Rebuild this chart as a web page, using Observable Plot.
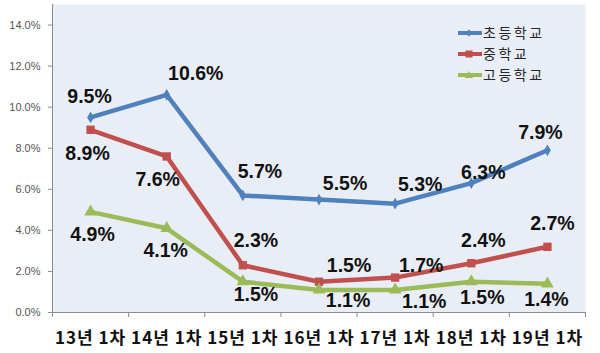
<!DOCTYPE html>
<html><head><meta charset="utf-8">
<script src="https://cdn.jsdelivr.net/npm/d3@7"></script>
<script src="https://cdn.jsdelivr.net/npm/@observablehq/plot@0.6"></script>
<style>
body{margin:0;background:#fff;}
#wrap{position:relative;width:600px;height:353px;}
#legend{position:absolute;left:458px;top:22px;font-family:"Noto Sans CJK KR",sans-serif;font-size:14px;letter-spacing:2.5px;color:#262626;line-height:21px;}
#legend div{display:flex;align-items:center;height:21px;}
#legend svg{margin-right:1px;}
#chart g[aria-label="x-axis tick label"] text{letter-spacing:1px;}
</style>
</head><body>
<div id="wrap"><div id="chart"></div><div id="legend"></div></div>
<script>
const categories = ["13년 1차","14년 1차","15년 1차","16년 1차","17년 1차","18년 1차","19년 1차"];
const seriesNames = ["초등학교","중학교","고등학교"];
const elementary = [9.5, 10.6, 5.7, 5.5, 5.3, 6.3, 7.9];
const middle = [8.9, 7.6, 2.3, 1.5, 1.7, 2.4, 3.2];
const high = [4.9, 4.1, 1.5, 1.1, 1.1, 1.5, 1.4];
const elementaryLabels = ["9.5%","10.6%","5.7%","5.5%","5.3%","6.3%","7.9%"];
const middleLabels = ["8.9%","7.6%","2.3%","1.5%","1.7%","2.4%","2.7%"];
const highLabels = ["4.9%","4.1%","1.5%","1.1%","1.1%","1.5%","1.4%"];
const yTicks = [0, 2, 4, 6, 8, 10, 12, 14];

// layout (styling) — label offsets in pixels, not data
const colors = ["#4f81bd", "#c0504d", "#9bbb59"];
const symbols = ["diamond", "square", "triangle"];
const symbolSizes = [40, 70, 70];
const labelOffsets = [
  [[-1,-21],[29,-21],[17,-24],[26,-16],[25,-19],[12,-10],[-7,-18]],
  [[-3,24],[-9,23],[13,-25],[30,-16],[26,-12],[12,-22],[5,-23]],
  [[2,23],[-1,22],[13,13],[29,11],[29,12],[11,16],[-1,16]]
];

const seriesValues = [elementary, middle, high];
const seriesLabels = [elementaryLabels, middleLabels, highLabels];
const data = [];
seriesNames.forEach((s, si) => seriesValues[si].forEach((v, i) =>
  data.push({series: s, si, i, x: i + 0.5, y: v, label: seriesLabels[si][i]})));

const labelMarks = data.map(d => Plot.text([d], {
  x: "x", y: "y", text: "label",
  dx: labelOffsets[d.si][d.i][0], dy: labelOffsets[d.si][d.i][1],
  fontSize: 19.5, fontWeight: "bold", fill: "#111",
  fontFamily: "'Liberation Sans', Arial, sans-serif"
}));

const chart = Plot.plot({
  width: 600, height: 353,
  marginLeft: 52, marginRight: 15, marginTop: 4, marginBottom: 41,
  style: {fontFamily: "'Liberation Sans', Arial, sans-serif", background: "transparent"},
  x: {type: "linear", domain: [0, categories.length]},
  y: {domain: [0, 15]},
  marks: [
    Plot.frame({fill: "#e9eef6", stroke: "none"}),
    Plot.ruleY([0], {stroke: "#8c8c8c", strokeWidth: 1}),
    Plot.ruleX([0], {stroke: "#8c8c8c", strokeWidth: 1}),
    Plot.axisY({ticks: yTicks, tickSize: 4, tickPadding: 8, tickFormat: d => d.toFixed(1) + "%",
      fontSize: 11, color: "#555", stroke: "#8c8c8c", label: null}),
    Plot.axisX({ticks: d3.range(0, categories.length + 1), tickSize: 5, tickFormat: () => "",
      stroke: "#8c8c8c", label: null}),
    Plot.axisX({ticks: categories.map((c, i) => i + 0.5), tickSize: 0, tickPadding: 19,
      tickFormat: d => categories[Math.floor(d)], fontSize: 17, fontWeight: "bold",
      fontFamily: "'Noto Sans CJK KR', sans-serif", color: "#111", label: null}),
    ...seriesNames.map((s, si) => Plot.line(data.filter(d => d.si === si),
      {x: "x", y: "y", stroke: colors[si], strokeWidth: 4.5})),
    ...seriesNames.map((s, si) => Plot.dot(data.filter(d => d.si === si),
      {x: "x", y: "y", fill: colors[si], symbol: () => symbols[si], r: Math.sqrt(symbolSizes[si] / Math.PI)})),
    ...labelMarks
  ]
});
document.getElementById("chart").appendChild(chart);

const legend = document.getElementById("legend");
seriesNames.forEach((s, si) => {
  const row = document.createElement("div");
  const sym = si === 0 ? '<path d="M11,1.5 L14.5,5 L11,8.5 L7.5,5Z" fill="'+colors[si]+'"/>'
            : si === 1 ? '<rect x="7.5" y="1.5" width="7" height="7" fill="'+colors[si]+'"/>'
            : '<path d="M11,1 L15,8 L7,8Z" fill="'+colors[si]+'"/>';
  row.innerHTML = '<svg width="24" height="10"><line x1="0" y1="5" x2="24" y2="5" stroke="'+colors[si]+'" stroke-width="4"/>'+sym+'</svg><span>'+s+'</span>';
  legend.appendChild(row);
});
</script>
</body></html>
